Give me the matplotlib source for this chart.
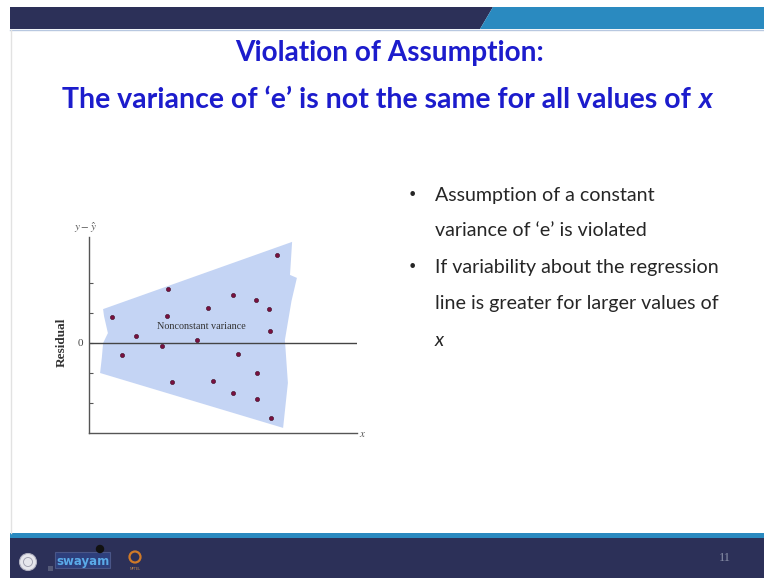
import numpy as np
import matplotlib
matplotlib.use("Agg")
import matplotlib.pyplot as plt
from matplotlib.patches import Polygon, Rectangle, Circle

plt.rcParams['mathtext.fontset'] = 'stix'

# residuals (x, e) scattered inside the widening band
res_x = [0.78, 1.09, 1.57, 2.62, 2.59, 2.42, 2.78, 3.59, 3.97, 4.12,
         4.79, 4.96, 4.80, 5.58, 5.99, 6.03, 5.61, 5.60, 6.28, 6.06]
res_y = [0.88, -0.39, 0.23, 1.79, 0.90, -0.10, -1.31, 0.10, 1.18, -1.28,
         1.60, -0.38, -1.66, 1.42, 1.12, 0.40, -1.01, -1.87, 2.92, -2.51]

# outline of the shaded band (torn edges on left and right)
band_x = [0.47, 6.77, 6.70, 6.93, 6.75, 6.53, 6.63, 6.47, 0.37, 0.43, 0.47, 0.63, 0.50]
band_y = [1.13, 3.37, 2.27, 2.17, 1.40, 0.10, -1.33, -2.83, -1.00, -0.47, 0.00, 0.33, 0.90]

ytick_vals = [-2, -1, 0, 1, 2]
ytick_text = ['', '', '0', '', '']

title_lines = ["Violation of Assumption:", "The variance of \u2018e\u2019 is not the same for all values of "]
bullets = [["Assumption of a constant", "variance of \u2018e\u2019 is violated"],
           ["If variability about the regression", "line is greater for larger values of"]]
page_no = "11"

W, H = 764, 578
fig = plt.figure(figsize=(W / 100, H / 100), dpi=100)

# slide background in pixel coordinates
bg = fig.add_axes([0, 0, 1, 1])
bg.set_xlim(0, W)
bg.set_ylim(H, 0)
bg.axis('off')
navy = '#2c3058'
sky = '#2a8ac0'
bg.add_patch(Polygon([(10, 7), (493, 7), (480, 29), (10, 29)], color=navy, lw=0))
bg.add_patch(Polygon([(493, 7), (W, 7), (W, 29), (480, 29)], color=sky, lw=0))
bg.plot([10, W], [29.5, 29.5], color='#b8c8e0', lw=1)
bg.plot([10.5, 10.5], [30, 533], color='#e2e2e2', lw=1)
bg.add_patch(Rectangle((10, 533), W - 10, 5, color=sky, lw=0))
bg.add_patch(Rectangle((10, 538), W - 10, H - 538, color=navy, lw=0))

# footer logos
bg.add_patch(Circle((28, 562), 8.5, facecolor='#e6e6ec', edgecolor='#b0b0c0', lw=0.8))
bg.add_patch(Circle((28, 562), 4.5, facecolor='none', edgecolor='#9a9aaa', lw=0.6))
bg.add_patch(Rectangle((55, 552), 55, 16, facecolor='#2e3f7c', edgecolor='#4a5688', lw=0.8))
bg.add_patch(Rectangle((48, 566), 5, 5, color='#555a78', lw=0))
bg.text(83, 561, "swayam", color='#5aaae8', fontsize=8.5, fontweight='bold',
        ha='center', va='center', family='DejaVu Sans')
bg.add_patch(Circle((100, 549), 3.5, color='#111111'))
bg.add_patch(Circle((135, 557), 5.5, facecolor='none', edgecolor='#d07a28', lw=1.6))
bg.text(135, 569, "NPTEL", color='#c08a50', fontsize=2.5, ha='center', va='center')
bg.text(725, 558, page_no, color='#8a90a8', fontsize=9, ha='center', va='center',
        family='Liberation Serif')

renderer = fig.canvas.get_renderer()


def fit_text(x, y, s, width, **kw):
    t = bg.text(x, y, s, fontsize=20, **kw)
    w = t.get_window_extent(renderer).width
    t.set_fontsize(20 * width / w)
    return t


# title
blue = '#1c1ccc'
fit_text(390, 53, title_lines[0], 309, color=blue, fontweight='bold',
         family='Lato', ha='center', va='center')
t2 = fit_text(62, 100, title_lines[1], 636, color=blue, fontweight='bold',
              family='Lato', ha='left', va='center')
x_end = t2.get_window_extent(renderer).x1
bg.text(x_end, 100, "x", color=blue, fontweight='bold', fontstyle='italic',
        family='Lato', fontsize=t2.get_fontsize(), ha='left', va='center')

# bullet points
ref = bg.text(0, 0, bullets[1][0], fontsize=20, family='Lato')
fs = 20 * 285 / ref.get_window_extent(renderer).width
ref.remove()
line_y = [[195, 230], [268, 303]]
for lines, ys in zip(bullets, line_y):
    bg.text(412, ys[0], "\u2022", fontsize=fs * 0.8, color='#262626', ha='center',
            va='center', family='DejaVu Sans')
    for s, yy in zip(lines, ys):
        bg.text(435, yy, s, fontsize=fs, color='#262626', family='Lato',
                ha='left', va='center')
bg.text(435, 340, "x", fontsize=fs, color='#262626', family='Lato',
        fontstyle='italic', ha='left', va='center')

# residual plot
ax = fig.add_axes([89 / W, (H - 433) / H, 268 / W, (433 - 237) / H])
ax.set_xlim(0, 268 / 30)
ax.set_ylim(-3, 106 / 30)
ax.patch.set_alpha(0)
for side in ['top', 'right']:
    ax.spines[side].set_visible(False)
for side in ['left', 'bottom']:
    ax.spines[side].set_color('#555555')
    ax.spines[side].set_linewidth(1.0)
ax.add_patch(Polygon(list(zip(band_x, band_y)), closed=True, facecolor='#c4d4f4',
                     edgecolor='none', zorder=1))
ax.axhline(0, color='#444444', lw=1.0, zorder=2)
ax.scatter(res_x, res_y, s=9, color='#7a1040', edgecolors='#3a0a20', linewidths=0.4, zorder=3)
ax.set_xticks([])
ax.set_yticks(ytick_vals)
ax.set_yticklabels(ytick_text, family='Liberation Serif', fontsize=8, color='#444444')
ax.tick_params(axis='y', direction='in', length=3, color='#555555', pad=4)
ax.text(3.76, 0.54, "Nonconstant variance", family='Liberation Serif', fontsize=7.3,
        color='#333333', ha='center', va='center', zorder=4)

bg.text(62, 342, "Residual", family='Liberation Serif', fontweight='bold', fontsize=9.5,
        rotation=90, ha='center', va='center', color='#333333')
bg.text(85, 228, r'$y - \hat{y}$', fontsize=8, color='#555555', ha='center', va='center')
bg.text(363, 434, r'$x$', fontsize=8, color='#555555', ha='center', va='center')

fig.savefig("out.png", dpi=100)
